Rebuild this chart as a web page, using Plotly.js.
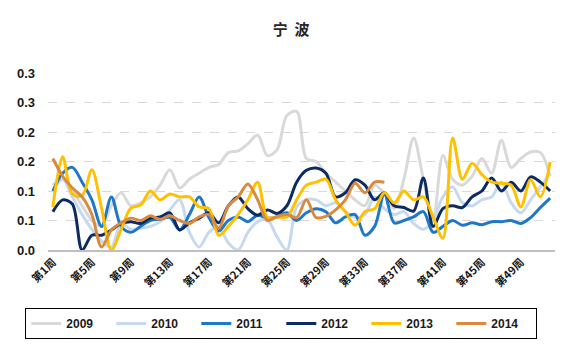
<!DOCTYPE html>
<html>
<head>
<meta charset="utf-8">
<script src="https://cdn.plot.ly/plotly-3.0.1.min.js"></script>
<style>html,body{margin:0;padding:0;background:#fff;}#chart{width:562px;height:354px;}</style>
</head>
<body>
<div id="chart"></div>
<script>
const weeks = Array.from({length: 52}, (_, i) => i + 1);
const tickWeeks = [1, 5, 9, 13, 17, 21, 25, 29, 33, 37, 41, 45, 49];
const tickLabels = tickWeeks.map(w => '第' + w + '周');
const yTickVals = [0, 0.05, 0.1, 0.15, 0.2, 0.25, 0.3];
const yTickText = ['0.0', '0.1', '0.1', '0.2', '0.2', '0.3', '0.3'];

const s2009 = [0.11,0.12,0.10,0.075,0.05,0.04,0.075,0.097,0.075,0.08,0.09,0.11,0.136,0.105,0.12,0.13,0.14,0.145,0.165,0.168,0.18,0.195,0.16,0.17,0.228,0.235,0.155,0.15,0.13,0.115,0.10,0.085,0.075,0.11,0.095,0.07,0.12,0.19,0.12,0.05,0.16,0.12,0.11,0.125,0.155,0.13,0.186,0.14,0.155,0.166,0.165,0.125];
const s2010 = [0.10,0.12,0.09,0.06,0.035,0.015,0.005,0.045,0.035,0.037,0.04,0.048,0.068,0.085,0.03,0.005,0.03,0.039,0.012,0.0,0.03,0.048,0.051,0.022,0.0,0.073,0.085,0.085,0.075,0.08,0.065,0.055,0.06,0.09,0.07,0.06,0.065,0.045,0.035,0.05,0.09,0.107,0.08,0.075,0.085,0.09,0.115,0.08,0.063,0.085,0.107,0.13];
const s2011 = [0.10,0.13,0.14,0.115,0.085,0.04,0.09,0.04,0.03,0.04,0.05,0.052,0.055,0.034,0.06,0.09,0.055,0.032,0.05,0.056,0.048,0.059,0.054,0.056,0.063,0.05,0.063,0.07,0.065,0.046,0.056,0.06,0.025,0.04,0.095,0.046,0.05,0.056,0.065,0.03,0.04,0.05,0.042,0.046,0.043,0.048,0.048,0.05,0.045,0.055,0.072,0.088];
const s2012 = [0.065,0.085,0.078,0.0,0.025,0.025,0.034,0.045,0.048,0.045,0.054,0.056,0.063,0.034,0.046,0.054,0.063,0.046,0.075,0.09,0.07,0.059,0.068,0.062,0.075,0.115,0.135,0.139,0.13,0.09,0.097,0.119,0.11,0.085,0.097,0.075,0.072,0.066,0.122,0.04,0.07,0.075,0.072,0.09,0.10,0.122,0.10,0.115,0.10,0.124,0.115,0.10];
const s2013 = [0.073,0.158,0.095,0.092,0.136,0.07,0.0,0.035,0.071,0.076,0.10,0.085,0.095,0.09,0.09,0.073,0.07,0.025,0.04,0.06,0.085,0.115,0.055,0.056,0.056,0.085,0.11,0.115,0.12,0.085,0.065,0.042,0.065,0.07,0.097,0.08,0.10,0.085,0.09,0.056,0.02,0.19,0.12,0.147,0.128,0.115,0.113,0.11,0.073,0.119,0.09,0.149];
const s2014 = [0.155,0.125,0.105,0.09,0.06,0.005,0.034,0.046,0.054,0.05,0.058,0.052,0.058,0.05,0.045,0.056,0.06,0.037,0.075,0.09,0.112,0.085,0.05,0.057,0.06,0.055,0.085,0.055,0.057,0.068,0.085,0.113,0.097,0.115,0.115];

const seriesNames = ['2009','2010','2011','2012','2013','2014'];
const seriesData = [s2009, s2010, s2011, s2012, s2013, s2014];
const colors = ['#d9d9d9','#c6d9ef','#1f77c8','#0d2b63','#ffc000','#d98a3f'];

const traces = seriesData.map((d, i) => ({
  x: weeks.slice(0, d.length),
  y: d,
  name: seriesNames[i],
  type: 'scatter',
  mode: 'lines',
  line: {color: colors[i], width: 3, shape: 'spline', smoothing: 0.9},
  hoverinfo: 'skip'
}));

const layout = {
  width: 562, height: 354,
  margin: {l: 48, r: 7, t: 73, b: 104},
  paper_bgcolor: '#fff', plot_bgcolor: '#fff',
  font: {family: 'Liberation Sans, Arial, sans-serif', color: '#1a1a1a'},
  title: {text: '宁&nbsp;&nbsp;波', x: 0.518, xref: 'container', y: 0.915, yref: 'container',
          xanchor: 'center', yanchor: 'middle',
          font: {family: 'Noto Sans CJK SC, sans-serif', size: 15, weight: 'bold', color: '#262626'}},
  xaxis: {
    range: [0.5, 52.5], tickvals: tickWeeks, ticktext: tickLabels, tickangle: -45,
    showgrid: false, zeroline: false, showline: true, linecolor: '#bfbfbf', linewidth: 1.5,
    ticks: '', tickfont: {family: 'Noto Sans CJK SC, sans-serif', size: 11, weight: 'bold', color: '#1a1a1a'}
  },
  yaxis: {
    range: [0, 0.3], tickvals: yTickVals, ticktext: yTickText,
    showgrid: true, gridcolor: '#d9d9d9', griddash: 'dash', gridwidth: 1,
    zeroline: false, showline: false, ticks: '', ticklabelstandoff: 12,
    tickfont: {family: 'Liberation Sans, Arial, sans-serif', size: 13, weight: 'bold', color: '#1a1a1a'}
  },
  showlegend: true,
  legend: {
    orientation: 'h', xref: 'container', yref: 'container',
    x: 0.045, y: 0.13, xanchor: 'left', yanchor: 'top',
    bordercolor: '#000', borderwidth: 1, bgcolor: '#fff',
    font: {family: 'Liberation Sans, Arial, sans-serif', size: 12, weight: 'bold', color: '#1a1a1a'},
    entrywidth: 40, entrywidthmode: 'pixels', traceorder: 'normal'
  }
};

Plotly.newPlot('chart', traces, layout, {displayModeBar: false, staticPlot: true});
</script>
</body>
</html>
